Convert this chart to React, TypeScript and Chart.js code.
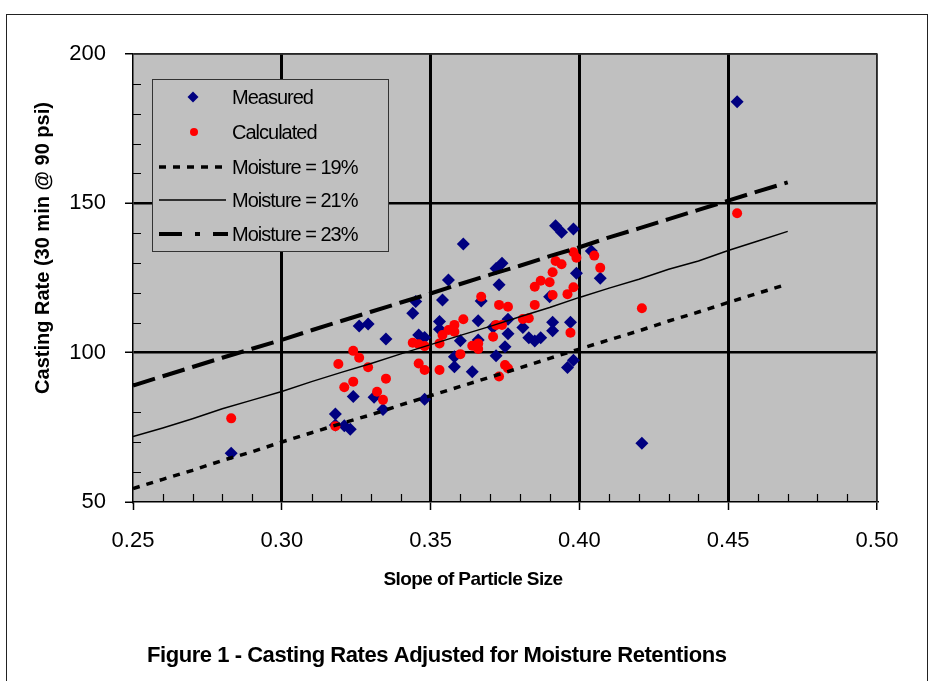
import React, { useEffect, useRef } from 'react';
import { Chart, registerables } from 'chart.js';

Chart.register(...registerables);

// ---------- data ----------
const lineX = [0.25, 0.26, 0.27, 0.28, 0.29, 0.30, 0.31, 0.32, 0.33, 0.34, 0.35, 0.36, 0.37, 0.38, 0.39, 0.40, 0.41, 0.42, 0.43, 0.44, 0.45, 0.46, 0.47];
const moisture19 = [54.5, 57.6, 60.6, 63.9, 66.8, 70.1, 73.2, 76.3, 79.2, 82.5, 85.6, 88.7, 91.8, 94.9, 98.1, 101.2, 104.3, 107.3, 110.6, 113.6, 116.8, 119.9, 123.0];
const moisture21 = [71.9, 74.8, 77.9, 81.2, 84.1, 87.0, 90.3, 93.4, 96.4, 99.6, 102.7, 105.8, 108.8, 112.0, 115.1, 118.5, 121.6, 124.6, 127.9, 130.7, 134.2, 137.4, 140.6];
const moisture23 = [89.0, 92.1, 95.2, 98.3, 101.3, 104.3, 107.5, 110.6, 113.7, 116.8, 119.8, 123.0, 126.1, 129.1, 132.3, 135.3, 138.6, 141.6, 144.7, 147.8, 150.9, 154.0, 157.0];

const measuredX = [0.283, 0.318, 0.318, 0.321, 0.323, 0.324, 0.331, 0.334, 0.348, 0.326, 0.329, 0.335, 0.344, 0.345, 0.346, 0.348, 0.353, 0.353, 0.354, 0.356, 0.361, 0.374, 0.372, 0.373, 0.367, 0.366, 0.376, 0.371, 0.376, 0.360, 0.366, 0.375, 0.372, 0.358, 0.358, 0.364, 0.392, 0.394, 0.398, 0.404, 0.399, 0.407, 0.390, 0.391, 0.397, 0.391, 0.381, 0.383, 0.385, 0.387, 0.398, 0.396, 0.453, 0.421];
const measuredY = [66.3, 79.5, 75.8, 75.5, 74.4, 85.3, 85.1, 81.0, 84.4, 108.9, 109.6, 104.6, 113.2, 117.1, 105.9, 105.1, 107.8, 110.4, 117.6, 124.3, 136.4, 129.9, 128.2, 122.7, 117.3, 110.7, 111.2, 108.5, 106.3, 104.0, 104.2, 102.0, 99.0, 98.6, 95.3, 93.6, 142.5, 140.3, 141.4, 134.0, 126.6, 124.9, 118.7, 110.2, 110.2, 107.3, 108.4, 105.0, 103.9, 105.0, 97.5, 95.0, 184.0, 69.7];

const calculatedX = [0.283, 0.318, 0.321, 0.324, 0.332, 0.334, 0.335, 0.319, 0.324, 0.326, 0.329, 0.344, 0.346, 0.348, 0.346, 0.348, 0.353, 0.353, 0.354, 0.356, 0.358, 0.358, 0.361, 0.360, 0.364, 0.366, 0.366, 0.367, 0.372, 0.374, 0.371, 0.373, 0.376, 0.375, 0.376, 0.373, 0.381, 0.383, 0.385, 0.385, 0.387, 0.390, 0.391, 0.396, 0.398, 0.391, 0.392, 0.394, 0.398, 0.399, 0.405, 0.407, 0.397, 0.421, 0.453];
const calculatedY = [78.0, 75.4, 88.4, 90.3, 86.9, 84.2, 91.3, 96.2, 100.6, 98.3, 95.1, 103.3, 102.8, 102.2, 96.4, 94.2, 94.2, 103.1, 105.9, 107.6, 107.0, 109.3, 111.2, 99.5, 102.3, 103.1, 101.2, 118.7, 109.3, 109.3, 105.3, 116.0, 115.4, 95.9, 94.8, 92.0, 111.3, 111.5, 116.0, 122.1, 124.1, 123.6, 119.3, 119.6, 121.9, 126.9, 130.7, 129.6, 133.6, 131.8, 132.5, 128.4, 106.7, 114.9, 146.7];

const xTickLabels = ['0.25', '0.30', '0.35', '0.40', '0.45', '0.50'];
const yTickLabels = ['50', '100', '150', '200'];
const legendLabels = ['Measured', 'Calculated', 'Moisture = 19%', 'Moisture = 21%', 'Moisture = 23%'];

const xTitle = 'Slope of Particle Size';
const yTitle = 'Casting Rate (30 min @ 90 psi)';
const caption = 'Figure 1 - Casting Rates Adjusted for Moisture Retentions';

const FONT = '"Liberation Sans", Arial, sans-serif';
const NAVY = '#000080';
const RED = '#FF0000';
const PLOT_BG = '#C0C0C0';

const near = (a: number, b: number) => Math.abs(a - b) < 1e-6;

function drawDiamond(ctx: CanvasRenderingContext2D, x: number, y: number, r: number) {
  ctx.beginPath();
  ctx.moveTo(x, y - r);
  ctx.lineTo(x + r, y);
  ctx.lineTo(x, y + r);
  ctx.lineTo(x - r, y);
  ctx.closePath();
  ctx.fill();
}

const decorPlugin = {
  id: 'decor',
  beforeDraw(chart: any) {
    const { ctx, chartArea } = chart;
    ctx.save();
    ctx.fillStyle = '#FFFFFF';
    ctx.fillRect(0, 0, chart.width, chart.height);
    ctx.strokeStyle = '#222';
    ctx.lineWidth = 1;
    ctx.strokeRect(6.5, 14.5, 921, 720);
    ctx.fillStyle = PLOT_BG;
    ctx.fillRect(chartArea.left, chartArea.top, chartArea.right - chartArea.left, chartArea.bottom - chartArea.top);
    ctx.restore();
  },
  afterDraw(chart: any) {
    const { ctx, chartArea, scales } = chart;
    const xs = scales.x;
    const ys = scales.y;
    ctx.save();
    // plot border (top / right)
    ctx.strokeStyle = '#333';
    ctx.lineWidth = 1.5;
    ctx.beginPath();
    ctx.moveTo(chartArea.left, chartArea.top);
    ctx.lineTo(chartArea.right, chartArea.top);
    ctx.lineTo(chartArea.right, chartArea.bottom);
    ctx.stroke();

    // minor ticks (inward)
    ctx.strokeStyle = '#000';
    ctx.lineWidth = 1.2;
    ctx.beginPath();
    for (let i = 1; i < 25; i++) {
      if (i % 5 === 0) continue;
      const v = 0.25 + i * 0.01;
      const px = Math.round(xs.getPixelForValue(v)) + 0.5;
      ctx.moveTo(px, chartArea.bottom);
      ctx.lineTo(px, chartArea.bottom - 8);
    }
    for (let i = 1; i < 15; i++) {
      if (i % 5 === 0) continue;
      const v = 50 + i * 10;
      const py = Math.round(ys.getPixelForValue(v)) + 0.5;
      ctx.moveTo(chartArea.left, py);
      ctx.lineTo(chartArea.left + 8, py);
    }
    ctx.stroke();

    // legend
    const lx = 152, ly = 79, lw = 236, lh = 172;
    ctx.fillStyle = PLOT_BG;
    ctx.fillRect(lx, ly, lw, lh);
    ctx.strokeStyle = '#333';
    ctx.lineWidth = 1;
    ctx.strokeRect(lx + 0.5, ly + 0.5, lw, lh);
    const rows = [97, 132, 167, 200, 234];
    ctx.fillStyle = NAVY;
    drawDiamond(ctx, 193, rows[0], 5.5);
    ctx.fillStyle = RED;
    ctx.beginPath();
    ctx.arc(194, rows[1], 4, 0, Math.PI * 2);
    ctx.fill();
    ctx.strokeStyle = '#000';
    ctx.lineCap = 'butt';
    // 19%
    ctx.lineWidth = 3.5;
    ctx.setLineDash([7, 7]);
    ctx.beginPath();
    ctx.moveTo(159, rows[2]);
    ctx.lineTo(226, rows[2]);
    ctx.stroke();
    // 21%
    ctx.setLineDash([]);
    ctx.lineWidth = 1.5;
    ctx.beginPath();
    ctx.moveTo(159, rows[3]);
    ctx.lineTo(226, rows[3]);
    ctx.stroke();
    // 23%
    ctx.lineWidth = 4;
    ctx.setLineDash([23, 13, 5, 13]);
    ctx.beginPath();
    ctx.moveTo(159, rows[4]);
    ctx.lineTo(228, rows[4]);
    ctx.stroke();
    ctx.setLineDash([]);

    ctx.fillStyle = '#000';
    ctx.font = `20px ${FONT}`;
    ctx.textAlign = 'left';
    ctx.textBaseline = 'middle';
    try { (ctx as any).letterSpacing = '-1px'; } catch (e) {}
    legendLabels.forEach((t, i) => ctx.fillText(t, 232, rows[i] + 1));

    // axis titles & caption
    ctx.font = `bold 19px ${FONT}`;
    try { (ctx as any).letterSpacing = '-0.6px'; } catch (e) {}
    ctx.textAlign = 'center';
    ctx.fillText(xTitle, 473, 580);

    ctx.font = `bold 22px ${FONT}`;
    try { (ctx as any).letterSpacing = '-0.45px'; } catch (e) {}
    ctx.textAlign = 'left';
    ctx.fillText(caption, 147, 656);

    try { (ctx as any).letterSpacing = '0px'; } catch (e) {}
    ctx.save();
    ctx.translate(43, 248);
    ctx.rotate(-Math.PI / 2);
    ctx.textAlign = 'center';
    ctx.font = `bold 20px ${FONT}`;
    ctx.fillText(yTitle, 0, 0);
    ctx.restore();

    ctx.restore();
  },
};

export default function App() {
  const ref = useRef<HTMLCanvasElement | null>(null);

  useEffect(() => {
    document.body.style.margin = '0';
    const canvas = ref.current;
    if (!canvas) return;

    const lineData = (ys: number[]) => lineX.map((x, i) => ({ x, y: ys[i] }));

    const chart = new Chart(canvas, {
      type: 'scatter',
      data: {
        datasets: [
          {
            label: legendLabels[2],
            data: lineData(moisture19),
            showLine: true,
            borderColor: '#000',
            borderWidth: 3.5,
            borderDash: [7, 7],
            pointRadius: 0,
            fill: false,
            order: 0,
          } as any,
          {
            label: legendLabels[3],
            data: lineData(moisture21),
            showLine: true,
            borderColor: '#000',
            borderWidth: 1.5,
            pointRadius: 0,
            fill: false,
            order: 0,
          } as any,
          {
            label: legendLabels[4],
            data: lineData(moisture23),
            showLine: true,
            borderColor: '#000',
            borderWidth: 4,
            borderDash: [23, 8],
            pointRadius: 0,
            fill: false,
            order: 0,
          } as any,
          {
            label: legendLabels[1],
            data: calculatedX.map((x, i) => ({ x, y: calculatedY[i] })),
            pointStyle: 'circle',
            pointRadius: 5,
            backgroundColor: RED,
            borderColor: RED,
            borderWidth: 0,
            order: 1,
          } as any,
          {
            label: legendLabels[0],
            data: measuredX.map((x, i) => ({ x, y: measuredY[i] })),
            pointStyle: 'rectRot',
            pointRadius: 6.5,
            backgroundColor: NAVY,
            borderColor: NAVY,
            borderWidth: 0,
            order: 2,
          } as any,
        ],
      },
      options: {
        responsive: false,
        animation: false,
        events: [],
        layout: { padding: { left: 0, top: 54, right: 58, bottom: 0 } },
        plugins: {
          legend: { display: false },
          tooltip: { enabled: false },
          title: { display: false },
        },
        scales: {
          x: {
            type: 'linear',
            min: 0.25,
            max: 0.5,
            afterFit: (s: any) => { s.height = 179; },
            ticks: {
              stepSize: 0.05,
              padding: 18,
              color: '#000',
              font: { family: FONT, size: 22 },
              callback: (v: any, i: number) => xTickLabels[i],
            },
            grid: {
              color: (c: any) => (c.tick && near(c.tick.value, 0.25) ? 'rgba(0,0,0,0)' : '#000'),
              lineWidth: (c: any) => (c.tick && near(c.tick.value, 0.5) ? 1.5 : 3),
              tickColor: '#000',
              tickWidth: 1.5,
              tickLength: 8,
              drawTicks: true,
            },
            border: { display: true, color: '#000', width: 1.5 },
          },
          y: {
            type: 'linear',
            min: 50,
            max: 200,
            afterFit: (s: any) => { s.width = 133; },
            ticks: {
              stepSize: 50,
              padding: 19,
              color: '#000',
              font: { family: FONT, size: 22 },
              callback: (v: any, i: number) => yTickLabels[i],
            },
            grid: {
              color: (c: any) => (c.tick && near(c.tick.value, 50) ? 'rgba(0,0,0,0)' : '#000'),
              lineWidth: (c: any) => (c.tick && near(c.tick.value, 200) ? 1.5 : 2.5),
              tickColor: '#000',
              tickWidth: 1.5,
              tickLength: 8,
              drawTicks: true,
            },
            border: { display: true, color: '#000', width: 1.5 },
          },
        },
      } as any,
      plugins: [decorPlugin],
    });

    return () => chart.destroy();
  }, []);

  return (
    <div style={{ width: 935, height: 681, position: 'relative' }}>
      <canvas ref={ref} width={935} height={681} style={{ display: 'block' }} />
    </div>
  );
}
